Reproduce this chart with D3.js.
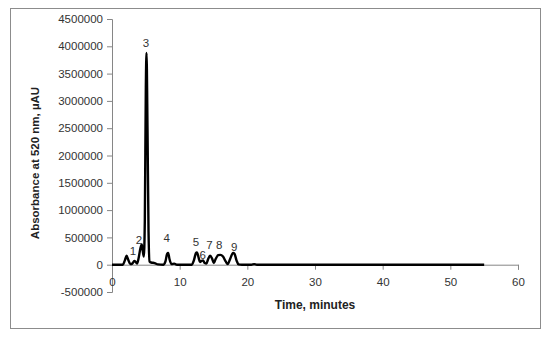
<!DOCTYPE html>
<html>
<head>
<meta charset="utf-8">
<script src="https://cdn.jsdelivr.net/npm/d3@7"></script>
<style>
  body { margin: 0; background: #fff; }
  svg { font-family: "Liberation Sans", Arial, sans-serif; }
</style>
</head>
<body>
<div id="chart"></div>
<script>
/* chromatogram trace: time (minutes) and absorbance (µAU) */
var times = [0, 1.6, 1.9, 2.15, 2.4, 2.7, 3.0, 3.3, 3.5, 3.7, 3.9, 4.2, 4.4, 4.55, 4.7,
             4.85, 5.0, 5.1, 5.25, 5.4, 5.55, 5.8, 6.3, 6.8, 7.6, 7.9, 8.15, 8.3, 8.5, 8.8,
             9.2, 9.6, 11.8, 12.1, 12.4, 12.55, 12.8, 13.0, 13.25, 13.45, 13.7, 13.95, 14.2,
             14.5, 14.8, 15.05, 15.3, 15.7, 16.0, 16.4, 16.8, 17.1, 17.5, 17.9, 18.1, 18.4,
             18.7, 19.2, 20.6, 21.0, 21.4, 55];
var absorbance = [0, 0, 80000, 165000, 90000, 10000, 20000, 70000, 50000, 20000, 100000,
                  300000, 370000, 250000, 150000, 800000, 3250000, 3880000, 2450000, 600000,
                  60000, 40000, 30000, 5000, 0, 60000, 200000, 215000, 100000, 10000,
                  20000, 0, 0, 80000, 210000, 225000, 130000, 50000, 70000, 80000,
                  30000, 20000, 100000, 165000, 110000, 30000, 100000, 175000, 180000, 150000,
                  60000, 10000, 120000, 215000, 200000, 80000, 5000, 0, 0, 10000, 0, 0];

/* peak numbers and where their labels sit */
var peakNames = ["1", "2", "3", "4", "5", "6", "7", "8", "9"];
var peakTimes = [3.1, 4.0, 5.0, 8.1, 12.4, 13.4, 14.4, 15.85, 18.05];
var peakLabelValues = [245000, 460000, 4070000, 496000, 410000, 184000, 368000, 368000, 318000];

var xTicks = [0, 10, 20, 30, 40, 50, 60];
var yTicks = [-500000, 0, 500000, 1000000, 1500000, 2000000, 2500000, 3000000, 3500000, 4000000, 4500000];

var xLabel = "Time, minutes";
var yLabel = "Absorbance at 520 nm, µAU";

var data = times.map(function(t, i) { return { t: t, v: absorbance[i] }; });

var svg = d3.select("#chart")
            .append("svg")
            .attr("width", 550)
            .attr("height", 340);

/* outer frame */
svg.append("rect")
    .attr("x", 10.5)
    .attr("y", 8.5)
    .attr("width", 530)
    .attr("height", 320)
    .attr("fill", "#fff")
    .attr("stroke", "#8c8c8c")
    .attr("stroke-width", 1);

var x = d3.scaleLinear().domain([0, 60]).range([112, 518]);
var y = d3.scaleLinear().domain([-500000, 4500000]).range([292, 19]);

var axisColor = "#868686";
var textColor = "#333";

/* y axis */
var yAxis = d3.axisLeft(y)
                .tickValues(yTicks)
                .tickSize(5)
                .tickPadding(4)
                .tickFormat(function(d) { return d; });

var gy = svg.append("g")
        .attr("transform", "translate(" + x(0) + ",0)")
        .call(yAxis);

/* x axis, crossing at zero */
var xAxis = d3.axisBottom(x)
                .tickValues(xTicks)
                .tickSize(5)
                .tickPadding(8)
                .tickFormat(d3.format("d"));

var gx = svg.append("g")
        .attr("transform", "translate(0," + y(0) + ")")
        .call(xAxis);

[gx, gy].forEach(function(g) {
    g.select(".domain").attr("stroke", axisColor).attr("stroke-width", 1);
    g.selectAll(".tick line").attr("stroke", axisColor);
    g.selectAll(".tick text")
        .attr("fill", textColor)
        .attr("font-size", "11.5px")
        .attr("font-family", "'Liberation Sans', Arial, sans-serif");
});

/* trace */
var line = d3.line()
                .x(function(d) { return x(d.t); })
                .y(function(d) { return y(d.v); })
                .curve(d3.curveMonotoneX);

svg.append("path")
    .datum(data)
    .attr("fill", "none")
    .attr("stroke", "#000")
    .attr("stroke-width", 2.4)
    .attr("stroke-linejoin", "round")
    .attr("d", line);

/* peak numbers */
svg.selectAll(".peak")
    .data(peakNames)
    .enter().append("text")
    .attr("class", "peak")
    .attr("x", function(d, i) { return x(peakTimes[i]); })
    .attr("y", function(d, i) { return y(peakLabelValues[i]); })
    .attr("dy", "0.35em")
    .attr("text-anchor", "middle")
    .attr("font-size", "11.5px")
    .attr("fill", textColor)
    .text(function(d) { return d; });

/* axis titles */
svg.append("text")
    .attr("transform", "translate(" + 315 + "," + 305 + ")")
    .attr("text-anchor", "middle")
    .attr("dy", "0.35em")
    .attr("font-size", "12px")
    .attr("font-weight", "bold")
    .attr("fill", "#222")
    .text(xLabel);

svg.append("text")
    .attr("transform", "translate(" + 35 + "," + 163 + ")rotate(-90)")
    .attr("text-anchor", "middle")
    .attr("dy", "0.35em")
    .attr("font-size", "11.5px")
    .attr("font-weight", "bold")
    .attr("fill", "#222")
    .text(yLabel);
</script>
</body>
</html>
